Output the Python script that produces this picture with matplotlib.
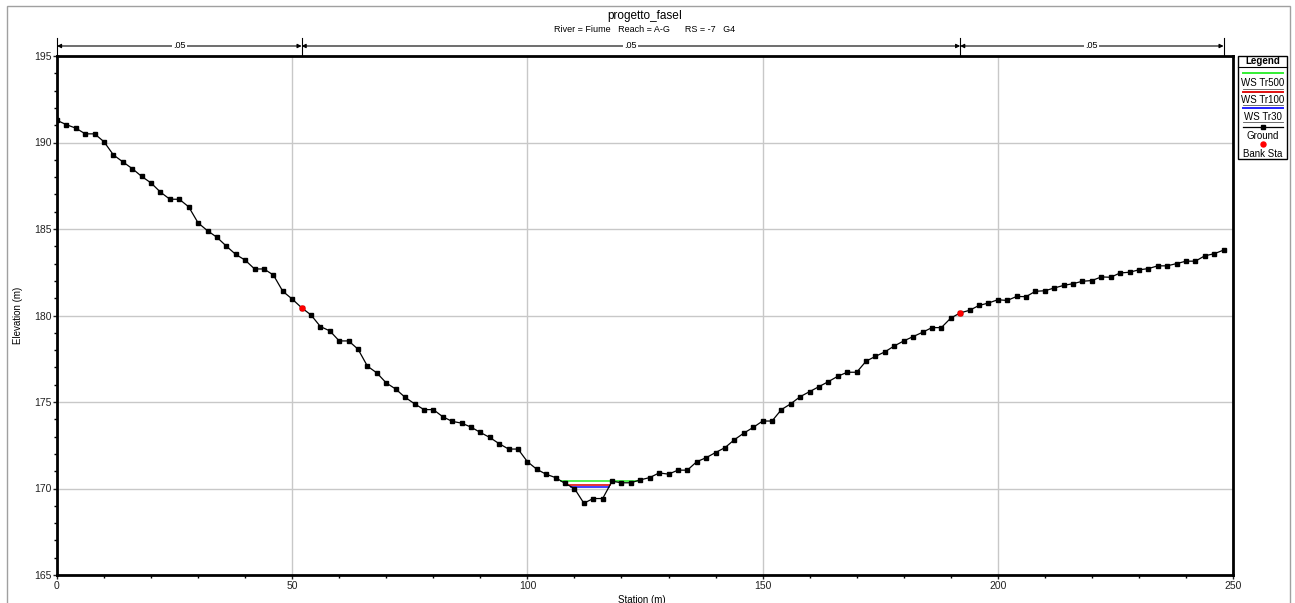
import numpy as np
import matplotlib
matplotlib.use("Agg")
import matplotlib.pyplot as plt
from matplotlib.lines import Line2D
from matplotlib.patches import Rectangle

plt.rcParams['font.family'] = ['Liberation Sans', 'DejaVu Sans']

# ground profile (station m, elevation m)
station = list(range(0, 250, 2))
elevation = [
    191.28, 191.03, 190.83, 190.50, 190.50, 190.04, 189.28, 188.88, 188.49, 188.04,
    187.66, 187.13, 186.72, 186.72, 186.28, 185.35, 184.90, 184.52, 184.01, 183.53,
    183.20, 182.69, 182.69, 182.34, 181.40, 180.95, 180.45, 180.03, 179.36, 179.11,
    178.53, 178.53, 178.05, 177.07, 176.68, 176.10, 175.75, 175.27, 174.90, 174.56,
    174.56, 174.15, 173.88, 173.78, 173.55, 173.24, 172.95, 172.59, 172.28, 172.28,
    171.55, 171.11, 170.82, 170.63, 170.29, 170.00, 169.15, 169.42, 169.42, 170.42,
    170.33, 170.33, 170.50, 170.63, 170.90, 170.83, 171.06, 171.06, 171.55, 171.78,
    172.08, 172.36, 172.82, 173.20, 173.53, 173.90, 173.90, 174.56, 174.90, 175.31,
    175.60, 175.89, 176.18, 176.49, 176.72, 176.72, 177.36, 177.64, 177.90, 178.24,
    178.53, 178.78, 179.03, 179.30, 179.30, 179.85, 180.15, 180.30, 180.58, 180.72,
    180.91, 180.87, 181.10, 181.09, 181.40, 181.43, 181.59, 181.74, 181.84, 181.98,
    182.02, 182.23, 182.21, 182.46, 182.50, 182.64, 182.71, 182.87, 182.87, 183.00,
    183.14, 183.14, 183.45, 183.57, 183.78,
]

bank_sta = [52, 192]
bank_elev = [180.45, 180.15]

# water surfaces
ws_names = ['WS Tr500', 'WS Tr100', 'WS Tr30']
ws_levels = [170.44, 170.23, 170.10]
ws_colors = ['#33ee33', '#e01010', '#2020ff']

# manning's n segments
n_bounds = [0, 52, 192, 248]
n_values = ['.05', '.05', '.05']

title = 'progetto_faseI'
subtitle = 'River = Fiume   Reach = A-G      RS = -7   G4'

W, H = 1295, 603
fig = plt.figure(figsize=(W / 100, H / 100), dpi=100)


def fx(px):
    return px / W


def fy(py):
    return 1 - py / H


ax = fig.add_axes([fx(57), fy(575), fx(1233) - fx(57), fy(56) - fy(575)])

x = np.array(station, dtype=float)
z = np.array(elevation)


def ws_extent(level):
    i0 = int(np.argmin(z))
    i = i0
    while i > 0 and z[i - 1] < level:
        i -= 1
    xl = np.interp(level, [z[i], z[i - 1]], [x[i], x[i - 1]])
    j = i0
    while j < len(z) - 1 and z[j + 1] < level:
        j += 1
    xr = np.interp(level, [z[j], z[j + 1]], [x[j], x[j + 1]])
    return xl, xr


for lvl, col in zip(ws_levels, ws_colors):
    xl, xr = ws_extent(lvl)
    ax.plot([xl, xr], [lvl, lvl], color=col, lw=1.2, zorder=3)

ax.plot(x, z, color='black', lw=0.9, marker='s', ms=2.6, zorder=4)
ax.plot(bank_sta, bank_elev, 'o', color='red', ms=3.6, zorder=5, mec='red')

ax.set_xlim(0, 250)
ax.set_ylim(165, 195)
ax.set_xticks(np.arange(0, 251, 50))
ax.set_xticks(np.arange(0, 251, 10), minor=True)
ax.set_yticks(np.arange(165, 196, 5))
ax.set_yticks(np.arange(165, 196, 1), minor=True)
ax.grid(True, which='major', color='#c8c8c8', lw=1)
ax.set_axisbelow(True)
ax.tick_params(which='major', length=3, width=1, labelsize=7.5, pad=1, colors='#222222')
ax.tick_params(which='minor', length=2.5, width=1)
for s in ax.spines.values():
    s.set_linewidth(2)

fig.text(fx(18), fy(315), 'Elevation (m)', rotation=90, fontsize=7,
         ha='center', va='center')
fig.text(fx(642), fy(600), 'Station (m)', fontsize=7, ha='center', va='center')

fig.text(fx(645), fy(16), title, fontsize=8.5, ha='center', va='center')
fig.text(fx(645), fy(30), subtitle, fontsize=6.5, ha='center', va='center')

# manning's n bar above the plot
tr = ax.get_xaxis_transform()
ybar = 1 + 10 / 519
for a, b, lab in zip(n_bounds[:-1], n_bounds[1:], n_values):
    ax.annotate('', xy=(a, ybar), xytext=(b, ybar), xycoords=tr, textcoords=tr,
                arrowprops=dict(arrowstyle='<|-|>', color='black', lw=0.8,
                                mutation_scale=6, shrinkA=0, shrinkB=0),
                annotation_clip=False)
    ax.text((a + b) / 2, ybar, lab, transform=tr, fontsize=6.5, ha='center',
            va='center', bbox=dict(fc='white', ec='none', pad=1), clip_on=False)
for b in n_bounds:
    ax.plot([b, b], [1.0, 1 + 18 / 519], transform=tr, color='black', lw=0.8,
            clip_on=False)

# outer frame (open at the bottom)
fig.add_artist(Rectangle((fx(7), -0.05), fx(1290) - fx(7), fy(6) + 0.05, fill=False,
                         ec='#a0a0a0', lw=1, transform=fig.transFigure))

# legend box drawn by hand
lx0, lx1 = 1238, 1287
lxc = (lx0 + lx1) / 2
fig.add_artist(Rectangle((fx(lx0), fy(159)), fx(lx1) - fx(lx0), fy(56) - fy(159),
                         fill=False, ec='black', lw=1, transform=fig.transFigure))
fig.text(fx(lxc), fy(61.5), 'Legend', fontsize=7, fontweight='bold',
         ha='center', va='center')
fig.add_artist(Line2D([fx(lx0), fx(lx1)], [fy(67), fy(67)], color='black', lw=0.8))

rows_line = [72.7, 91.7, 108.3]
rows_text = [83.3, 100, 116.7]
rows_sep = [89.3, 105, 121.7]
for name, col, yl, yt, ys in zip(ws_names, ws_colors, rows_line, rows_text, rows_sep):
    fig.add_artist(Line2D([fx(1243), fx(1283)], [fy(yl), fy(yl)], color=col, lw=1.4))
    fig.text(fx(lxc), fy(yt), name, fontsize=7, ha='center', va='center')
    fig.add_artist(Line2D([fx(1243), fx(1283)], [fy(ys), fy(ys)], color='#555555', lw=0.6))
fig.add_artist(Line2D([fx(1243), fx(lxc), fx(1283)], [fy(126.7)] * 3, color='black',
                      lw=0.9, marker='s', ms=2.6, markevery=[1]))
fig.text(fx(lxc), fy(136), 'Ground', fontsize=7, ha='center', va='center')
fig.add_artist(Line2D([fx(lxc)], [fy(144)], color='red', ls='none', marker='o', ms=3.6))
fig.text(fx(lxc), fy(154.3), 'Bank Sta', fontsize=7, ha='center', va='center')

fig.savefig('out.png', dpi=100)
